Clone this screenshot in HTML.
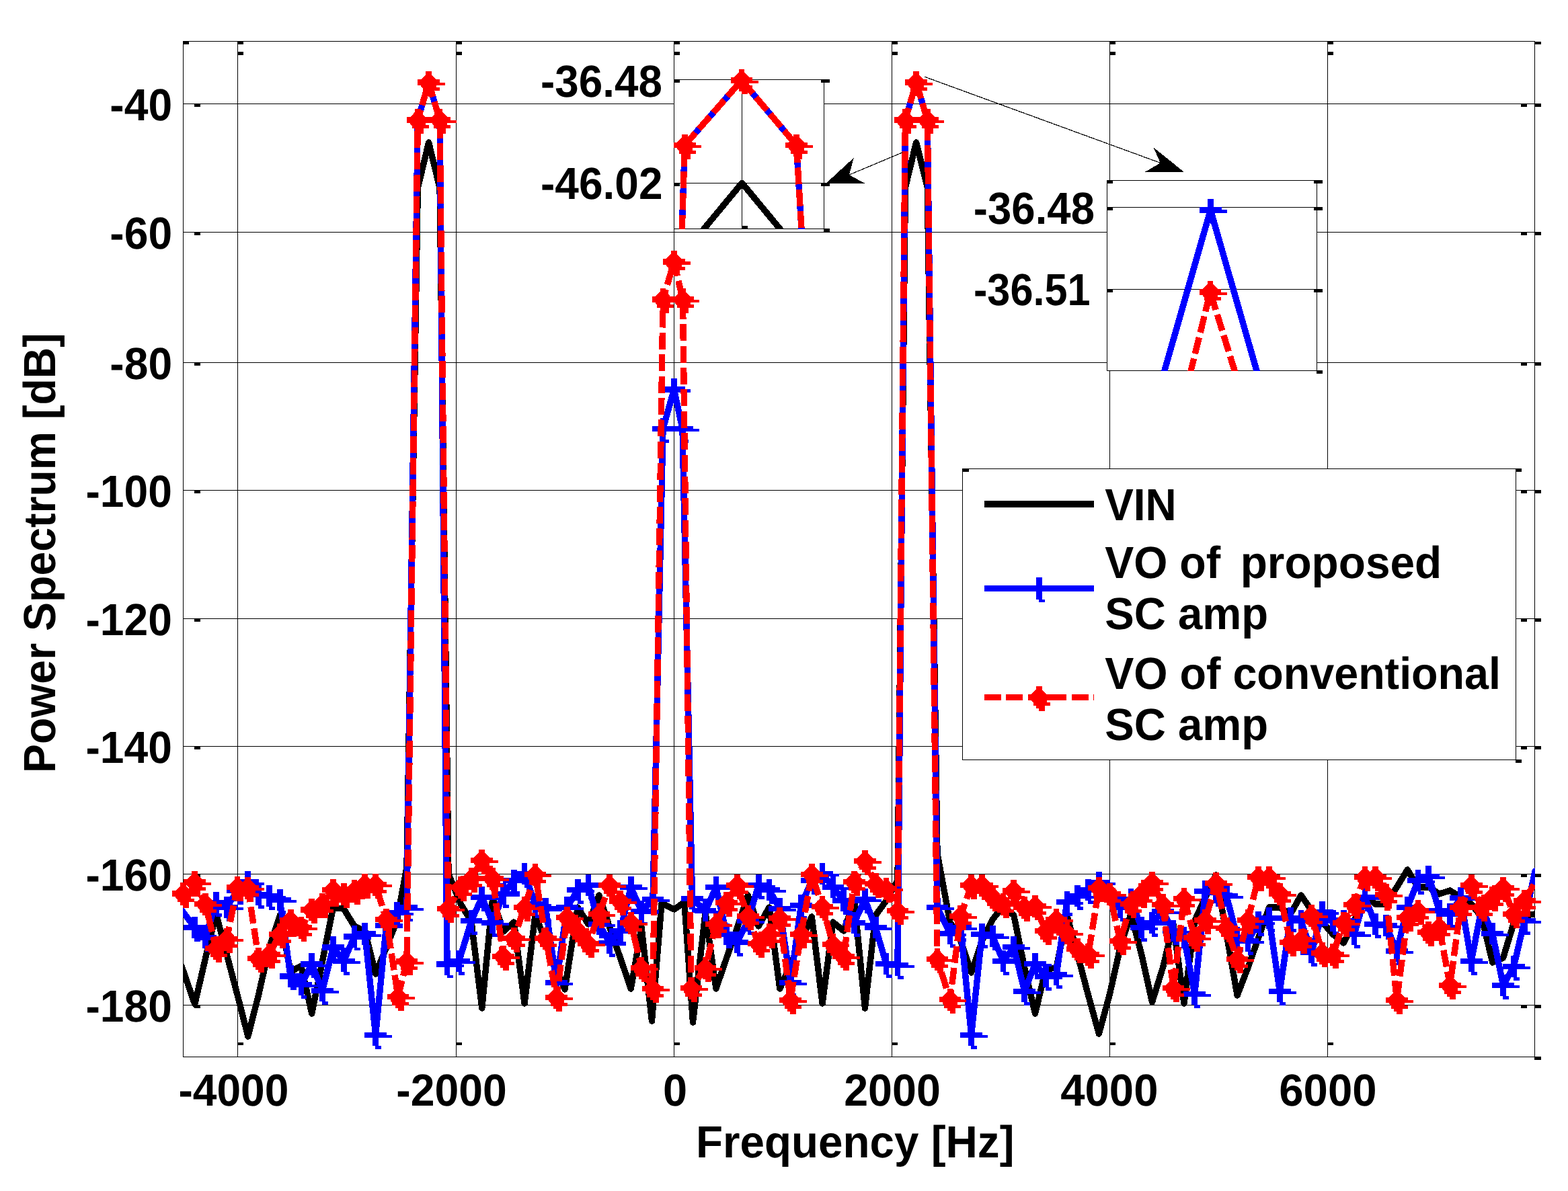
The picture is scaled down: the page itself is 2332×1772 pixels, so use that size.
<!DOCTYPE html>
<html><head><meta charset="utf-8"><title>Power Spectrum</title>
<style>html,body{margin:0;padding:0;background:#fff;width:2332px;height:1772px;overflow:hidden}</style>
</head><body>
<svg xmlns="http://www.w3.org/2000/svg" width="2332" height="1772" viewBox="0 0 2332 1772" style="display:block" shape-rendering="crispEdges">
<defs>
<path id="st" d="M-4.4 -16.5 L4.4 -16.5 L4.4 -11.5 L11.4 -4.4 L16.4 -4.4 L16.4 0.0 L24.5 0.0 L24.5 4.4 L11.4 4.4 L11.4 7.5 L16.4 7.5 L16.4 12.5 L8.5 12.5 L8.5 20.7 L-0.4 20.7 L-0.4 16.7 L-4.4 16.7 L-4.4 12.5 L-8.6 12.5 L-8.6 8.5 L-11.4 5.7 L-11.4 4.4 L-16.4 4.4 L-16.4 -4.4 L-11.4 -4.4 L-4.4 -11.5 Z" fill="#ff0000"/>
<path id="pl" d="M-4.4 -16.4 L4.4 -16.4 L4.4 -4.4 L16.4 -4.4 L16.4 0.0 L24.5 0.0 L24.5 4.4 L4.4 4.4 L4.4 16.2 L8.5 16.2 L8.5 20.5 L-0.4 20.5 L-0.4 16.4 L-4.4 16.4 L-4.4 4.4 L-16.4 4.4 L-16.4 -4.4 L-4.4 -4.4 Z" fill="#0000ff"/>
<clipPath id="cax"><rect x="272" y="61" width="2011" height="1512"/></clipPath>
<clipPath id="ci1"><rect x="1002" y="118" width="224" height="223"/></clipPath>
<clipPath id="ci2"><rect x="1646" y="268" width="313" height="284"/></clipPath>
</defs>
<rect width="2332" height="1772" fill="#fff"/>
<path d="M353.5 61 V1573 M678.5 61 V1573 M1002.5 61 V1573 M1326.5 61 V1573 M1650.5 61 V1573 M1974.5 61 V1573 M272 154.5 H2283 M272 345.5 H2283 M272 539.5 H2283 M272 729.5 H2283 M272 920.5 H2283 M272 1110.5 H2283 M272 1300.5 H2283 M272 1495.5 H2283" stroke="#000" stroke-width="1" fill="none"/>
<path d="M272 62h9v4h-9z M2282 62h10v4h-10z M2282 1572h10v5h-10z M353 62h9v4h-9z M353 77h9v5h-9z M353 1551h9v4h-9z M678 62h9v4h-9z M678 77h9v5h-9z M678 1551h9v4h-9z M1002 62h9v4h-9z M1002 77h9v5h-9z M1002 1551h9v4h-9z M1326 62h9v4h-9z M1326 77h9v5h-9z M1326 1551h9v4h-9z M1650 62h9v4h-9z M1650 77h9v5h-9z M1650 1551h9v4h-9z M1974 62h9v4h-9z M1974 77h9v5h-9z M1974 1551h9v4h-9z M289 155h9v4h-9z M2262 155h9v4h-9z M2282 154h10v5h-10z M289 346h9v4h-9z M2262 346h9v4h-9z M2282 345h10v5h-10z M289 540h9v4h-9z M2262 540h9v4h-9z M2282 539h10v5h-10z M289 730h9v4h-9z M2262 730h9v4h-9z M2282 729h10v5h-10z M289 921h9v4h-9z M2262 921h9v4h-9z M2282 920h10v5h-10z M289 1111h9v4h-9z M2262 1111h9v4h-9z M2282 1110h10v5h-10z M289 1301h9v4h-9z M2262 1301h9v4h-9z M2282 1300h10v5h-10z M289 1496h9v4h-9z M2262 1496h9v4h-9z M2282 1495h10v5h-10z" fill="#000"/>
<rect x="272.5" y="61.5" width="2010" height="1511" fill="none" stroke="#000" stroke-width="1"/>
<g clip-path="url(#cax)" fill="none" stroke-linejoin="round">
<path d="M255.0 1400.0 L271.0 1440.0 L289.7 1494.0 L305.5 1426.0 L321.3 1359.0 L337.2 1420.0 L353.0 1480.0 L368.8 1542.0 L384.6 1480.0 L400.4 1410.0 L416.3 1362.0 L432.1 1446.0 L447.9 1437.0 L463.7 1508.0 L479.5 1430.0 L495.4 1351.0 L511.2 1352.0 L527.0 1378.0 L542.8 1385.0 L558.6 1449.0 L574.5 1410.0 L590.3 1370.0 L605.0 1290.0 L621.3 280.0 L637.6 212.0 L654.1 280.0 L667.0 1300.0 L685.2 1345.0 L701.0 1371.0 L716.8 1500.0 L732.7 1336.0 L748.5 1386.0 L764.3 1372.0 L780.1 1493.0 L795.9 1362.0 L811.8 1400.0 L827.6 1440.0 L840.0 1472.0 L859.2 1350.0 L875.0 1375.0 L890.9 1332.0 L906.7 1380.0 L922.5 1425.0 L938.3 1471.0 L954.1 1380.0 L969.5 1519.0 L984.0 1344.0 L1003.0 1353.0 L1017.8 1342.0 L1030.5 1521.0 L1049.1 1358.0 L1064.9 1471.0 L1080.7 1425.0 L1096.5 1380.0 L1112.3 1332.0 L1128.2 1378.0 L1144.0 1350.0 L1159.8 1471.0 L1175.6 1435.0 L1191.4 1400.0 L1207.3 1364.0 L1223.1 1493.0 L1238.9 1372.0 L1254.7 1385.0 L1270.5 1340.0 L1286.4 1500.0 L1302.2 1362.0 L1318.0 1340.0 L1335.0 1310.0 L1346.4 279.0 L1362.6 212.0 L1379.3 279.0 L1394.0 1270.0 L1412.9 1372.0 L1428.7 1400.0 L1444.6 1447.0 L1460.4 1400.0 L1476.2 1368.0 L1492.0 1348.0 L1507.8 1362.0 L1523.7 1440.0 L1539.5 1508.0 L1555.3 1442.0 L1571.1 1440.0 L1586.9 1362.0 L1602.8 1421.0 L1618.6 1481.0 L1634.4 1538.0 L1650.2 1480.0 L1666.0 1410.0 L1681.9 1360.0 L1697.7 1420.0 L1713.5 1491.0 L1729.3 1440.0 L1745.1 1376.0 L1761.0 1493.0 L1776.8 1370.0 L1792.6 1335.0 L1808.4 1302.0 L1824.2 1390.0 L1840.1 1481.0 L1855.9 1440.0 L1871.7 1395.0 L1887.5 1350.0 L1903.3 1350.0 L1919.2 1360.0 L1935.0 1332.0 L1950.8 1355.0 L1966.6 1372.0 L1982.4 1390.0 L1998.3 1403.0 L2014.1 1370.0 L2029.9 1334.0 L2045.7 1345.0 L2061.5 1345.0 L2077.4 1320.0 L2093.2 1294.0 L2109.0 1320.0 L2124.8 1320.0 L2140.6 1330.0 L2156.5 1325.0 L2172.3 1335.0 L2188.1 1345.0 L2203.9 1365.0 L2219.7 1432.0 L2235.6 1425.0 L2251.4 1373.0 L2267.2 1362.0 L2283.0 1360.0 L2298.8 1360.0" stroke="#000" stroke-width="9.4"/>
<path d="M255.0 1340.0 L271.0 1355.0 L289.7 1380.0 L305.5 1395.0 L321.3 1343.0 L337.2 1350.0 L353.0 1325.0 L368.8 1312.6 L384.6 1331.0 L400.4 1333.0 L416.3 1339.0 L432.1 1452.8 L447.9 1465.0 L463.7 1434.5 L479.5 1474.0 L495.4 1409.7 L511.2 1430.0 L527.0 1393.5 L542.8 1389.7 L558.6 1540.0 L574.5 1377.0 L590.3 1358.0 L605.0 1350.5 L621.3 178.6 L637.6 122.8 L654.1 178.6 L665.0 1434.7 L682.7 1430.0 L701.0 1370.0 L716.8 1335.0 L732.7 1373.0 L748.5 1330.0 L764.3 1310.0 L780.1 1300.0 L795.9 1345.0 L811.8 1352.0 L827.6 1462.0 L843.4 1350.0 L859.2 1324.0 L875.0 1317.0 L890.9 1375.0 L906.7 1403.0 L922.5 1385.0 L938.3 1320.0 L954.1 1356.0 L971.0 1338.0 L986.0 638.0 L1002.4 579.4 L1015.0 638.0 L1029.5 1337.0 L1049.1 1355.0 L1064.9 1320.0 L1080.7 1390.0 L1096.5 1402.0 L1112.3 1370.0 L1128.2 1317.0 L1144.0 1324.0 L1159.8 1352.0 L1175.6 1462.0 L1191.4 1347.0 L1207.3 1310.0 L1223.1 1300.0 L1238.9 1320.0 L1254.7 1340.0 L1270.5 1373.0 L1286.4 1338.0 L1302.2 1380.0 L1318.0 1434.0 L1335.0 1436.0 L1346.4 178.6 L1362.6 122.6 L1379.3 178.6 L1394.0 1350.0 L1412.9 1389.0 L1428.7 1380.0 L1444.6 1540.0 L1460.4 1390.0 L1476.2 1393.0 L1492.0 1430.0 L1507.8 1409.0 L1523.7 1475.0 L1539.5 1434.0 L1555.3 1453.0 L1571.1 1450.0 L1586.9 1342.0 L1602.8 1333.0 L1618.6 1324.0 L1634.4 1313.0 L1650.2 1330.0 L1666.0 1350.0 L1681.9 1338.0 L1697.7 1380.0 L1713.5 1373.0 L1729.3 1356.0 L1745.1 1385.0 L1761.0 1395.0 L1776.8 1479.0 L1792.6 1326.0 L1808.4 1328.0 L1824.2 1333.0 L1840.1 1395.0 L1855.9 1400.0 L1871.7 1372.0 L1887.5 1366.0 L1903.3 1475.0 L1919.2 1366.0 L1935.0 1370.0 L1950.8 1417.0 L1966.6 1357.0 L1982.4 1370.0 L1998.3 1370.0 L2014.1 1390.0 L2029.9 1335.0 L2045.7 1375.0 L2061.5 1377.0 L2077.4 1415.0 L2093.2 1350.0 L2109.0 1310.0 L2124.8 1304.0 L2140.6 1355.0 L2156.5 1360.0 L2172.3 1336.0 L2188.1 1430.0 L2203.9 1350.0 L2219.7 1389.0 L2235.6 1466.0 L2251.4 1438.0 L2267.2 1370.0 L2283.0 1296.0 L2298.8 1300.0" stroke="#0000ff" stroke-width="9.4"/>
</g><g>
<use href="#pl" x="289.7" y="1380.0"/>
<use href="#pl" x="305.5" y="1395.0"/>
<use href="#pl" x="321.3" y="1343.0"/>
<use href="#pl" x="337.2" y="1350.0"/>
<use href="#pl" x="353.0" y="1325.0"/>
<use href="#pl" x="368.8" y="1312.6"/>
<use href="#pl" x="384.6" y="1331.0"/>
<use href="#pl" x="400.4" y="1333.0"/>
<use href="#pl" x="416.3" y="1339.0"/>
<use href="#pl" x="432.1" y="1452.8"/>
<use href="#pl" x="447.9" y="1465.0"/>
<use href="#pl" x="463.7" y="1434.5"/>
<use href="#pl" x="479.5" y="1474.0"/>
<use href="#pl" x="495.4" y="1409.7"/>
<use href="#pl" x="511.2" y="1430.0"/>
<use href="#pl" x="527.0" y="1393.5"/>
<use href="#pl" x="542.8" y="1389.7"/>
<use href="#pl" x="558.6" y="1540.0"/>
<use href="#pl" x="574.5" y="1377.0"/>
<use href="#pl" x="590.3" y="1358.0"/>
<use href="#pl" x="605.0" y="1350.5"/>
<use href="#pl" x="621.3" y="178.6"/>
<use href="#pl" x="637.6" y="122.8"/>
<use href="#pl" x="654.1" y="178.6"/>
<use href="#pl" x="665.0" y="1434.7"/>
<use href="#pl" x="682.7" y="1430.0"/>
<use href="#pl" x="701.0" y="1370.0"/>
<use href="#pl" x="716.8" y="1335.0"/>
<use href="#pl" x="732.7" y="1373.0"/>
<use href="#pl" x="748.5" y="1330.0"/>
<use href="#pl" x="764.3" y="1310.0"/>
<use href="#pl" x="780.1" y="1300.0"/>
<use href="#pl" x="795.9" y="1345.0"/>
<use href="#pl" x="811.8" y="1352.0"/>
<use href="#pl" x="827.6" y="1462.0"/>
<use href="#pl" x="843.4" y="1350.0"/>
<use href="#pl" x="859.2" y="1324.0"/>
<use href="#pl" x="875.0" y="1317.0"/>
<use href="#pl" x="890.9" y="1375.0"/>
<use href="#pl" x="906.7" y="1403.0"/>
<use href="#pl" x="922.5" y="1385.0"/>
<use href="#pl" x="938.3" y="1320.0"/>
<use href="#pl" x="954.1" y="1356.0"/>
<use href="#pl" x="971.0" y="1338.0"/>
<use href="#pl" x="986.0" y="638.0"/>
<use href="#pl" x="1002.4" y="579.4"/>
<use href="#pl" x="1015.0" y="638.0"/>
<use href="#pl" x="1029.5" y="1337.0"/>
<use href="#pl" x="1049.1" y="1355.0"/>
<use href="#pl" x="1064.9" y="1320.0"/>
<use href="#pl" x="1080.7" y="1390.0"/>
<use href="#pl" x="1096.5" y="1402.0"/>
<use href="#pl" x="1112.3" y="1370.0"/>
<use href="#pl" x="1128.2" y="1317.0"/>
<use href="#pl" x="1144.0" y="1324.0"/>
<use href="#pl" x="1159.8" y="1352.0"/>
<use href="#pl" x="1175.6" y="1462.0"/>
<use href="#pl" x="1191.4" y="1347.0"/>
<use href="#pl" x="1207.3" y="1310.0"/>
<use href="#pl" x="1223.1" y="1300.0"/>
<use href="#pl" x="1238.9" y="1320.0"/>
<use href="#pl" x="1254.7" y="1340.0"/>
<use href="#pl" x="1270.5" y="1373.0"/>
<use href="#pl" x="1286.4" y="1338.0"/>
<use href="#pl" x="1302.2" y="1380.0"/>
<use href="#pl" x="1318.0" y="1434.0"/>
<use href="#pl" x="1335.0" y="1436.0"/>
<use href="#pl" x="1346.4" y="178.6"/>
<use href="#pl" x="1362.6" y="122.6"/>
<use href="#pl" x="1379.3" y="178.6"/>
<use href="#pl" x="1394.0" y="1350.0"/>
<use href="#pl" x="1412.9" y="1389.0"/>
<use href="#pl" x="1428.7" y="1380.0"/>
<use href="#pl" x="1444.6" y="1540.0"/>
<use href="#pl" x="1460.4" y="1390.0"/>
<use href="#pl" x="1476.2" y="1393.0"/>
<use href="#pl" x="1492.0" y="1430.0"/>
<use href="#pl" x="1507.8" y="1409.0"/>
<use href="#pl" x="1523.7" y="1475.0"/>
<use href="#pl" x="1539.5" y="1434.0"/>
<use href="#pl" x="1555.3" y="1453.0"/>
<use href="#pl" x="1571.1" y="1450.0"/>
<use href="#pl" x="1586.9" y="1342.0"/>
<use href="#pl" x="1602.8" y="1333.0"/>
<use href="#pl" x="1618.6" y="1324.0"/>
<use href="#pl" x="1634.4" y="1313.0"/>
<use href="#pl" x="1650.2" y="1330.0"/>
<use href="#pl" x="1666.0" y="1350.0"/>
<use href="#pl" x="1681.9" y="1338.0"/>
<use href="#pl" x="1697.7" y="1380.0"/>
<use href="#pl" x="1713.5" y="1373.0"/>
<use href="#pl" x="1729.3" y="1356.0"/>
<use href="#pl" x="1745.1" y="1385.0"/>
<use href="#pl" x="1761.0" y="1395.0"/>
<use href="#pl" x="1776.8" y="1479.0"/>
<use href="#pl" x="1792.6" y="1326.0"/>
<use href="#pl" x="1808.4" y="1328.0"/>
<use href="#pl" x="1824.2" y="1333.0"/>
<use href="#pl" x="1840.1" y="1395.0"/>
<use href="#pl" x="1855.9" y="1400.0"/>
<use href="#pl" x="1871.7" y="1372.0"/>
<use href="#pl" x="1887.5" y="1366.0"/>
<use href="#pl" x="1903.3" y="1475.0"/>
<use href="#pl" x="1919.2" y="1366.0"/>
<use href="#pl" x="1935.0" y="1370.0"/>
<use href="#pl" x="1950.8" y="1417.0"/>
<use href="#pl" x="1966.6" y="1357.0"/>
<use href="#pl" x="1982.4" y="1370.0"/>
<use href="#pl" x="1998.3" y="1370.0"/>
<use href="#pl" x="2014.1" y="1390.0"/>
<use href="#pl" x="2029.9" y="1335.0"/>
<use href="#pl" x="2045.7" y="1375.0"/>
<use href="#pl" x="2061.5" y="1377.0"/>
<use href="#pl" x="2077.4" y="1415.0"/>
<use href="#pl" x="2093.2" y="1350.0"/>
<use href="#pl" x="2109.0" y="1310.0"/>
<use href="#pl" x="2124.8" y="1304.0"/>
<use href="#pl" x="2140.6" y="1355.0"/>
<use href="#pl" x="2156.5" y="1360.0"/>
<use href="#pl" x="2172.3" y="1336.0"/>
<use href="#pl" x="2188.1" y="1430.0"/>
<use href="#pl" x="2203.9" y="1350.0"/>
<use href="#pl" x="2219.7" y="1389.0"/>
<use href="#pl" x="2235.6" y="1466.0"/>
<use href="#pl" x="2251.4" y="1438.0"/>
<use href="#pl" x="2267.2" y="1370.0"/>
</g><g clip-path="url(#cax)" fill="none" stroke-linejoin="round">
<path d="M256.0 1320.0 L272.4 1329.8 L289.7 1312.6 L305.5 1345.0 L321.3 1411.0 L337.2 1397.0 L353.0 1320.0 L368.8 1321.0 L384.6 1426.0 L400.4 1420.0 L416.3 1390.0 L432.1 1369.7 L447.9 1380.0 L463.7 1353.5 L479.5 1345.0 L495.4 1324.0 L511.2 1330.0 L527.0 1325.0 L542.8 1316.0 L558.6 1316.0 L574.5 1368.0 L592.0 1483.0 L605.0 1430.7" stroke="#ff0000" stroke-width="9.4" stroke-dasharray="25 7.4" stroke-dashoffset="0.00"/>
<path d="M605.0 1430.7 L621.3 178.6" stroke="#ff0000" stroke-width="9.4" stroke-dasharray="25 7.4" stroke-dashoffset="20.41"/>
<path d="M621.3 178.6 L637.6 122.8 L654.1 178.6" stroke="#ff0000" stroke-width="9.4" stroke-dasharray="25 7.4" stroke-dashoffset="9.37"/>
<path d="M654.1 178.6 L666.7 1352.0" stroke="#ff0000" stroke-width="9.4" stroke-dasharray="25 7.4" stroke-dashoffset="30.10"/>
<path d="M666.7 1352.0 L685.2 1320.0 L701.0 1307.0 L716.8 1280.0 L732.7 1307.0 L748.5 1423.0 L764.3 1396.0 L780.1 1350.0 L795.9 1301.0 L811.8 1396.0 L827.6 1484.0 L843.4 1365.0 L859.2 1385.0 L875.0 1404.0 L890.9 1360.0 L906.7 1317.0 L922.5 1341.0 L938.3 1373.0 L954.1 1440.0 L971.0 1471.0" stroke="#ff0000" stroke-width="9.4" stroke-dasharray="25 7.4" stroke-dashoffset="4.77"/>
<path d="M971.0 1471.0 L986.0 445.8" stroke="#ff0000" stroke-width="9.4" stroke-dasharray="25 7.4" stroke-dashoffset="20.80"/>
<path d="M986.0 445.8 L1002.4 389.4 L1015.5 445.8" stroke="#ff0000" stroke-width="9.4" stroke-dasharray="25 7.4" stroke-dashoffset="9.30"/>
<path d="M1015.5 445.8 L1028.0 1470.0" stroke="#ff0000" stroke-width="9.4" stroke-dasharray="25 7.4" stroke-dashoffset="28.40"/>
<path d="M1028.0 1470.0 L1049.1 1440.0 L1064.9 1375.0 L1080.7 1343.0 L1096.5 1317.0 L1112.3 1363.0 L1128.2 1404.0 L1144.0 1390.0 L1159.8 1366.0 L1175.6 1488.0 L1191.4 1390.0 L1207.3 1301.0 L1223.1 1349.0 L1238.9 1405.0 L1254.7 1423.0 L1270.5 1312.0 L1286.4 1281.0 L1302.2 1315.0 L1318.0 1322.0 L1335.0 1355.0" stroke="#ff0000" stroke-width="9.4" stroke-dasharray="25 7.4" stroke-dashoffset="15.87"/>
<path d="M1335.0 1355.0 L1346.4 178.6" stroke="#ff0000" stroke-width="9.4" stroke-dasharray="25 7.4" stroke-dashoffset="28.75"/>
<path d="M1346.4 178.6 L1362.6 122.6 L1379.3 178.6" stroke="#ff0000" stroke-width="9.4" stroke-dasharray="25 7.4" stroke-dashoffset="6.36"/>
<path d="M1379.3 178.6 L1394.0 1427.0" stroke="#ff0000" stroke-width="9.4" stroke-dasharray="25 7.4" stroke-dashoffset="27.00"/>
<path d="M1394.0 1427.0 L1412.9 1487.0 L1428.7 1363.0 L1444.6 1317.0 L1460.4 1317.0 L1476.2 1335.0 L1492.0 1345.0 L1507.8 1325.0 L1523.7 1350.0 L1539.5 1348.0 L1555.3 1385.0 L1571.1 1368.0 L1586.9 1388.0 L1602.8 1412.0 L1618.6 1420.0 L1634.4 1321.0 L1650.2 1330.0 L1666.0 1400.0 L1681.9 1345.0 L1697.7 1330.0 L1713.5 1313.0 L1729.3 1346.0 L1745.1 1470.0 L1761.0 1337.0 L1776.8 1395.0 L1792.6 1369.0 L1808.4 1314.0 L1824.2 1381.0 L1840.1 1427.0 L1855.9 1369.0 L1871.7 1305.0 L1887.5 1305.0 L1903.3 1330.0 L1919.2 1402.0 L1935.0 1398.0 L1950.8 1362.0 L1966.6 1418.0 L1982.4 1420.0 L1998.3 1373.0 L2014.1 1346.0 L2029.9 1305.0 L2045.7 1305.0 L2061.5 1331.0 L2077.4 1488.0 L2093.2 1365.0 L2109.0 1355.0 L2124.8 1387.0 L2140.6 1380.0 L2156.5 1466.0 L2172.3 1350.0 L2188.1 1317.0 L2203.9 1350.0 L2219.7 1335.0 L2235.6 1321.0 L2251.4 1360.0 L2267.2 1340.0 L2283.0 1313.0 L2298.8 1320.0" stroke="#ff0000" stroke-width="9.4" stroke-dasharray="25 7.4" stroke-dashoffset="11.88"/>
</g><g>
<use href="#st" x="272.4" y="1329.8"/>
<use href="#st" x="289.7" y="1312.6"/>
<use href="#st" x="305.5" y="1345.0"/>
<use href="#st" x="321.3" y="1411.0"/>
<use href="#st" x="337.2" y="1397.0"/>
<use href="#st" x="353.0" y="1320.0"/>
<use href="#st" x="368.8" y="1321.0"/>
<use href="#st" x="384.6" y="1426.0"/>
<use href="#st" x="400.4" y="1420.0"/>
<use href="#st" x="416.3" y="1390.0"/>
<use href="#st" x="432.1" y="1369.7"/>
<use href="#st" x="447.9" y="1380.0"/>
<use href="#st" x="463.7" y="1353.5"/>
<use href="#st" x="479.5" y="1345.0"/>
<use href="#st" x="495.4" y="1324.0"/>
<use href="#st" x="511.2" y="1330.0"/>
<use href="#st" x="527.0" y="1325.0"/>
<use href="#st" x="542.8" y="1316.0"/>
<use href="#st" x="558.6" y="1316.0"/>
<use href="#st" x="574.5" y="1368.0"/>
<use href="#st" x="592.0" y="1483.0"/>
<use href="#st" x="605.0" y="1430.7"/>
<use href="#st" x="621.3" y="178.6"/>
<use href="#st" x="637.6" y="122.8"/>
<use href="#st" x="654.1" y="178.6"/>
<use href="#st" x="666.7" y="1352.0"/>
<use href="#st" x="685.2" y="1320.0"/>
<use href="#st" x="701.0" y="1307.0"/>
<use href="#st" x="716.8" y="1280.0"/>
<use href="#st" x="732.7" y="1307.0"/>
<use href="#st" x="748.5" y="1423.0"/>
<use href="#st" x="764.3" y="1396.0"/>
<use href="#st" x="780.1" y="1350.0"/>
<use href="#st" x="795.9" y="1301.0"/>
<use href="#st" x="811.8" y="1396.0"/>
<use href="#st" x="827.6" y="1484.0"/>
<use href="#st" x="843.4" y="1365.0"/>
<use href="#st" x="859.2" y="1385.0"/>
<use href="#st" x="875.0" y="1404.0"/>
<use href="#st" x="890.9" y="1360.0"/>
<use href="#st" x="906.7" y="1317.0"/>
<use href="#st" x="922.5" y="1341.0"/>
<use href="#st" x="938.3" y="1373.0"/>
<use href="#st" x="954.1" y="1440.0"/>
<use href="#st" x="971.0" y="1471.0"/>
<use href="#st" x="986.0" y="445.8"/>
<use href="#st" x="1002.4" y="389.4"/>
<use href="#st" x="1015.5" y="445.8"/>
<use href="#st" x="1028.0" y="1470.0"/>
<use href="#st" x="1049.1" y="1440.0"/>
<use href="#st" x="1064.9" y="1375.0"/>
<use href="#st" x="1080.7" y="1343.0"/>
<use href="#st" x="1096.5" y="1317.0"/>
<use href="#st" x="1112.3" y="1363.0"/>
<use href="#st" x="1128.2" y="1404.0"/>
<use href="#st" x="1144.0" y="1390.0"/>
<use href="#st" x="1159.8" y="1366.0"/>
<use href="#st" x="1175.6" y="1488.0"/>
<use href="#st" x="1191.4" y="1390.0"/>
<use href="#st" x="1207.3" y="1301.0"/>
<use href="#st" x="1223.1" y="1349.0"/>
<use href="#st" x="1238.9" y="1405.0"/>
<use href="#st" x="1254.7" y="1423.0"/>
<use href="#st" x="1270.5" y="1312.0"/>
<use href="#st" x="1286.4" y="1281.0"/>
<use href="#st" x="1302.2" y="1315.0"/>
<use href="#st" x="1318.0" y="1322.0"/>
<use href="#st" x="1335.0" y="1355.0"/>
<use href="#st" x="1346.4" y="178.6"/>
<use href="#st" x="1362.6" y="122.6"/>
<use href="#st" x="1379.3" y="178.6"/>
<use href="#st" x="1394.0" y="1427.0"/>
<use href="#st" x="1412.9" y="1487.0"/>
<use href="#st" x="1428.7" y="1363.0"/>
<use href="#st" x="1444.6" y="1317.0"/>
<use href="#st" x="1460.4" y="1317.0"/>
<use href="#st" x="1476.2" y="1335.0"/>
<use href="#st" x="1492.0" y="1345.0"/>
<use href="#st" x="1507.8" y="1325.0"/>
<use href="#st" x="1523.7" y="1350.0"/>
<use href="#st" x="1539.5" y="1348.0"/>
<use href="#st" x="1555.3" y="1385.0"/>
<use href="#st" x="1571.1" y="1368.0"/>
<use href="#st" x="1586.9" y="1388.0"/>
<use href="#st" x="1602.8" y="1412.0"/>
<use href="#st" x="1618.6" y="1420.0"/>
<use href="#st" x="1634.4" y="1321.0"/>
<use href="#st" x="1650.2" y="1330.0"/>
<use href="#st" x="1666.0" y="1400.0"/>
<use href="#st" x="1681.9" y="1345.0"/>
<use href="#st" x="1697.7" y="1330.0"/>
<use href="#st" x="1713.5" y="1313.0"/>
<use href="#st" x="1729.3" y="1346.0"/>
<use href="#st" x="1745.1" y="1470.0"/>
<use href="#st" x="1761.0" y="1337.0"/>
<use href="#st" x="1776.8" y="1395.0"/>
<use href="#st" x="1792.6" y="1369.0"/>
<use href="#st" x="1808.4" y="1314.0"/>
<use href="#st" x="1824.2" y="1381.0"/>
<use href="#st" x="1840.1" y="1427.0"/>
<use href="#st" x="1855.9" y="1369.0"/>
<use href="#st" x="1871.7" y="1305.0"/>
<use href="#st" x="1887.5" y="1305.0"/>
<use href="#st" x="1903.3" y="1330.0"/>
<use href="#st" x="1919.2" y="1402.0"/>
<use href="#st" x="1935.0" y="1398.0"/>
<use href="#st" x="1950.8" y="1362.0"/>
<use href="#st" x="1966.6" y="1418.0"/>
<use href="#st" x="1982.4" y="1420.0"/>
<use href="#st" x="1998.3" y="1373.0"/>
<use href="#st" x="2014.1" y="1346.0"/>
<use href="#st" x="2029.9" y="1305.0"/>
<use href="#st" x="2045.7" y="1305.0"/>
<use href="#st" x="2061.5" y="1331.0"/>
<use href="#st" x="2077.4" y="1488.0"/>
<use href="#st" x="2093.2" y="1365.0"/>
<use href="#st" x="2109.0" y="1355.0"/>
<use href="#st" x="2124.8" y="1387.0"/>
<use href="#st" x="2140.6" y="1380.0"/>
<use href="#st" x="2156.5" y="1466.0"/>
<use href="#st" x="2172.3" y="1350.0"/>
<use href="#st" x="2188.1" y="1317.0"/>
<use href="#st" x="2203.9" y="1350.0"/>
<use href="#st" x="2219.7" y="1335.0"/>
<use href="#st" x="2235.6" y="1321.0"/>
<use href="#st" x="2251.4" y="1360.0"/>
<use href="#st" x="2267.2" y="1340.0"/>
</g>
<rect x="1002" y="118" width="224" height="223" fill="#fff"/>
<path d="M1103.5 118 V341 M1002 272.5 H1226" stroke="#000" stroke-width="1"/>
<rect x="1002.5" y="118.5" width="223" height="222" fill="none" stroke="#000" stroke-width="1"/>
<path d="M1002 119h9v4h-9z M1002 273h9v4h-9z M1221 118h13v5h-13z M1221 272h13v5h-13z M1225 340h9v5h-9z M1103 336h9v4h-9z" fill="#000"/>
<g clip-path="url(#ci1)" fill="none" stroke-linejoin="round">
<path d="M1018.4 375.0 L1103.5 272.2 L1188.5 375.0" stroke="#000" stroke-width="9.4"/>
<path d="M955.9 2111.0 L1018.4 216.0 L1103.0 119.5 L1184.5 216.0 L1298.8 2111.0" stroke="#0000ff" stroke-width="9.4"/>
<path d="M955.9 2111.0 L1018.4 216.0" stroke="#ff0000" stroke-width="9.4" stroke-dasharray="25 7.4" stroke-dashoffset="14.83"/>
<path d="M1018.4 216.0 L1103.0 119.5 L1184.5 216.0" stroke="#ff0000" stroke-width="9.4" stroke-dasharray="25 7.4" stroke-dashoffset="0.55"/>
<path d="M1184.5 216.0 L1298.8 2111.0" stroke="#ff0000" stroke-width="9.4" stroke-dasharray="25 7.4" stroke-dashoffset="31.35"/>
</g><g>
<use href="#st" x="1018.4" y="216.0"/>
<use href="#st" x="1103.0" y="119.5"/>
<use href="#st" x="1184.5" y="216.0"/>
</g>
<rect x="1646" y="268" width="313" height="284" fill="#fff"/>
<path d="M1646 308.5 H1959 M1646 430.5 H1959" stroke="#000" stroke-width="1"/>
<rect x="1646.5" y="268.5" width="312" height="283" fill="none" stroke="#000" stroke-width="1"/>
<path d="M1646 268h9v5h-9z M1646 308h9v5h-9z M1646 430h9v5h-9z M1954 268h13v5h-13z M1954 308h13v5h-13z M1954 430h13v5h-13z M1958 551h9v5h-9z" fill="#000"/>
<g clip-path="url(#ci2)" fill="none" stroke-linejoin="round">
<path d="M1698.0 670.0 L1800.3 312.4 L1903.0 670.0" stroke="#0000ff" stroke-width="9.4"/>
<path d="M1757.0 609.0 L1800.0 434.5 L1853.9 609.0" stroke="#ff0000" stroke-width="9.4" stroke-dasharray="25 7.4" stroke-dashoffset="12"/>
</g><g clip-path="url(#ci2)">
<use href="#pl" x="1800.3" y="312.4"/>
<use href="#st" x="1800.0" y="434.5"/>
</g>
<path d="M1342.5 226.7 L1263 260.1" stroke="#000" stroke-width="1.2" fill="none"/>
<path d="M1228.6 272.6 L1269.7 234.9 L1263 260.1 L1285.8 272.6 Z" fill="#000"/>
<path d="M1375 114.2 L1725.8 242.4" stroke="#000" stroke-width="1.2" fill="none"/>
<path d="M1760.8 255.8 L1715.4 219.2 L1725.8 242.4 L1703 255.8 Z" fill="#000"/>
<rect x="1431.5" y="697.5" width="823" height="433" fill="#fff" stroke="#000" stroke-width="1"/>
<path d="M1431 697h10v5h-10z M2254 697h9v5h-9z M2254 1130h9v5h-9z" fill="#000"/>
<path d="M1464 750 H1627" stroke="#000" stroke-width="10"/>
<path d="M1464 875.5 H1627" stroke="#0000ff" stroke-width="9"/>
<use href="#pl" x="1545.5" y="875.5"/>
<path d="M1464 1037.5 H1627" stroke="#ff0000" stroke-width="9" stroke-dasharray="25 7.4"/>
<use href="#st" x="1545.4" y="1037.3"/>
<text transform="translate(163.34,179.00) scale(0.9580,1)" font-size="67" font-family="Liberation Sans, Arial, Helvetica, sans-serif" font-weight="bold" text-rendering="geometricPrecision">-40</text>
<text transform="translate(163.34,370.00) scale(0.9580,1)" font-size="67" font-family="Liberation Sans, Arial, Helvetica, sans-serif" font-weight="bold" text-rendering="geometricPrecision">-60</text>
<text transform="translate(163.34,564.00) scale(0.9580,1)" font-size="67" font-family="Liberation Sans, Arial, Helvetica, sans-serif" font-weight="bold" text-rendering="geometricPrecision">-80</text>
<text transform="translate(127.40,754.00) scale(0.9580,1)" font-size="67" font-family="Liberation Sans, Arial, Helvetica, sans-serif" font-weight="bold" text-rendering="geometricPrecision">-100</text>
<text transform="translate(127.40,945.00) scale(0.9580,1)" font-size="67" font-family="Liberation Sans, Arial, Helvetica, sans-serif" font-weight="bold" text-rendering="geometricPrecision">-120</text>
<text transform="translate(127.40,1135.00) scale(0.9580,1)" font-size="67" font-family="Liberation Sans, Arial, Helvetica, sans-serif" font-weight="bold" text-rendering="geometricPrecision">-140</text>
<text transform="translate(127.40,1325.00) scale(0.9580,1)" font-size="67" font-family="Liberation Sans, Arial, Helvetica, sans-serif" font-weight="bold" text-rendering="geometricPrecision">-160</text>
<text transform="translate(127.40,1520.00) scale(0.9580,1)" font-size="67" font-family="Liberation Sans, Arial, Helvetica, sans-serif" font-weight="bold" text-rendering="geometricPrecision">-180</text>
<text transform="translate(265.44,1645.00) scale(0.9569,1)" font-size="67" font-family="Liberation Sans, Arial, Helvetica, sans-serif" font-weight="bold" text-rendering="geometricPrecision" xml:space="preserve">-4000</text>
<text transform="translate(589.23,1645.00) scale(0.9599,1)" font-size="67" font-family="Liberation Sans, Arial, Helvetica, sans-serif" font-weight="bold" text-rendering="geometricPrecision" xml:space="preserve">-2000</text>
<text transform="translate(986.10,1645.00) scale(0.9686,1)" font-size="67" font-family="Liberation Sans, Arial, Helvetica, sans-serif" font-weight="bold" text-rendering="geometricPrecision" xml:space="preserve">0</text>
<text transform="translate(1255.16,1645.00) scale(0.9636,1)" font-size="67" font-family="Liberation Sans, Arial, Helvetica, sans-serif" font-weight="bold" text-rendering="geometricPrecision" xml:space="preserve">2000</text>
<text transform="translate(1577.30,1645.00) scale(0.9736,1)" font-size="67" font-family="Liberation Sans, Arial, Helvetica, sans-serif" font-weight="bold" text-rendering="geometricPrecision" xml:space="preserve">4000</text>
<text transform="translate(1902.29,1645.00) scale(0.9750,1)" font-size="67" font-family="Liberation Sans, Arial, Helvetica, sans-serif" font-weight="bold" text-rendering="geometricPrecision" xml:space="preserve">6000</text>
<text transform="translate(1035.01,1721.80) scale(0.9783,1)" font-size="67" font-family="Liberation Sans, Arial, Helvetica, sans-serif" font-weight="bold" text-rendering="geometricPrecision" xml:space="preserve">Frequency [Hz]</text>
<text transform="translate(82,1150.01) rotate(-90) scale(0.9611,1)" font-size="67" font-family="Liberation Sans, Arial, Helvetica, sans-serif" font-weight="bold" text-rendering="geometricPrecision">Power Spectrum [dB]</text>
<text transform="translate(1643.16,774.00) scale(0.9528,1)" font-size="67" font-family="Liberation Sans, Arial, Helvetica, sans-serif" font-weight="bold" text-rendering="geometricPrecision" xml:space="preserve">VIN</text>
<text transform="translate(1643.15,859.50) scale(0.9629,1)" font-size="67" font-family="Liberation Sans, Arial, Helvetica, sans-serif" font-weight="bold" text-rendering="geometricPrecision" xml:space="preserve">VO of</text>
<text transform="translate(1844.70,859.50) scale(0.9813,1)" font-size="67" font-family="Liberation Sans, Arial, Helvetica, sans-serif" font-weight="bold" text-rendering="geometricPrecision" xml:space="preserve">proposed</text>
<text transform="translate(1643.24,936.20) scale(0.9736,1)" font-size="67" font-family="Liberation Sans, Arial, Helvetica, sans-serif" font-weight="bold" text-rendering="geometricPrecision" xml:space="preserve">SC amp</text>
<text transform="translate(1643.15,1024.50) scale(0.9644,1)" font-size="67" font-family="Liberation Sans, Arial, Helvetica, sans-serif" font-weight="bold" text-rendering="geometricPrecision" xml:space="preserve">VO of conventional</text>
<text transform="translate(1643.24,1101.20) scale(0.9736,1)" font-size="67" font-family="Liberation Sans, Arial, Helvetica, sans-serif" font-weight="bold" text-rendering="geometricPrecision" xml:space="preserve">SC amp</text>
<text transform="translate(804.05,143.50) scale(0.9521,1)" font-size="67" font-family="Liberation Sans, Arial, Helvetica, sans-serif" font-weight="bold" text-rendering="geometricPrecision" xml:space="preserve">-36.48</text>
<text transform="translate(804.04,295.80) scale(0.9555,1)" font-size="67" font-family="Liberation Sans, Arial, Helvetica, sans-serif" font-weight="bold" text-rendering="geometricPrecision" xml:space="preserve">-46.02</text>
<text transform="translate(1447.86,333.30) scale(0.9483,1)" font-size="67" font-family="Liberation Sans, Arial, Helvetica, sans-serif" font-weight="bold" text-rendering="geometricPrecision" xml:space="preserve">-36.48</text>
<text transform="translate(1447.95,453.60) scale(0.9138,1)" font-size="67" font-family="Liberation Sans, Arial, Helvetica, sans-serif" font-weight="bold" text-rendering="geometricPrecision" xml:space="preserve">-36.51</text>
</svg>
</body></html>
